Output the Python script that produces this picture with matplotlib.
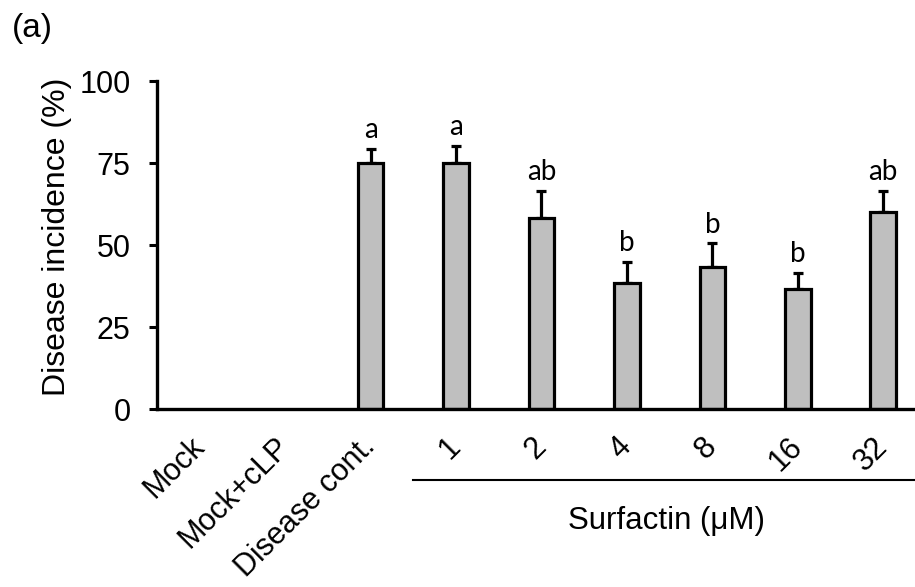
import numpy as np
import matplotlib.pyplot as plt

# data
groups = ['Mock', 'Mock+cLP', 'Disease cont.', '1', '2', '4', '8', '16', '32']
incidence = [0, 0, 75.0, 75.0, 58.3, 38.3, 43.3, 36.7, 60.0]
err_up = [0, 0, 4.2, 5.2, 8.3, 6.5, 7.2, 4.8, 6.5]
letters = ['', '', 'a', 'a', 'ab', 'b', 'b', 'b', 'ab']

plt.rcParams['font.family'] = ['Liberation Sans', 'DejaVu Sans']

fig = plt.figure(figsize=(9.15, 5.87), dpi=100)
ax = fig.add_axes([0.1716, 0.3032, 0.8404, 0.5588])

x = np.arange(len(groups))
has_bar = np.array(incidence) > 0
ax.bar(x[has_bar], np.array(incidence)[has_bar], width=0.3, color='#bfbfbf',
       edgecolor='black', linewidth=2.3, zorder=2)
ax.errorbar(x[has_bar], np.array(incidence)[has_bar],
            yerr=[np.zeros(has_bar.sum()), np.array(err_up)[has_bar]],
            fmt='none', ecolor='black', elinewidth=2.3, capsize=3.3, capthick=2.3, zorder=1)

# significance letters
for xi, m, e, lab in zip(x, incidence, err_up, letters):
    if lab:
        ax.text(xi, m + e + 3.3, lab, ha='center', va='baseline', fontsize=20,
                family=['Lato', 'DejaVu Sans'])

ax.set_xlim(-0.5, 8.5)
ax.set_ylim(0, 100)
ax.set_yticks([0, 25, 50, 75, 100])
ax.set_ylabel('Disease incidence (%)', fontsize=23)
ax.yaxis.set_label_coords(-0.111, 0.524)

ax.set_xticks(x)
ax.set_xticklabels(groups, rotation=45, ha='right', va='center',
                   rotation_mode='anchor', fontsize=22)
ax.tick_params(axis='x', length=0, pad=24)
ax.tick_params(axis='y', direction='out', length=6, width=2.2, labelsize=22, pad=13)

for s in ['top', 'right']:
    ax.spines[s].set_visible(False)
for s in ['left', 'bottom']:
    ax.spines[s].set_linewidth(2.4)

# group bracket for surfactin doses
ax.plot([2.5, 9.0], [-21.65, -21.65], color='black', linewidth=1.5, clip_on=False)
ax.text(5.46, -34.1, 'Surfactin (\u03bcM)', ha='center', va='center', fontsize=22.5)

fig.text(12 / 915, 1 - 13 / 587, '(a)', fontsize=24, ha='left', va='top')

fig.savefig('out.png', dpi=100)
